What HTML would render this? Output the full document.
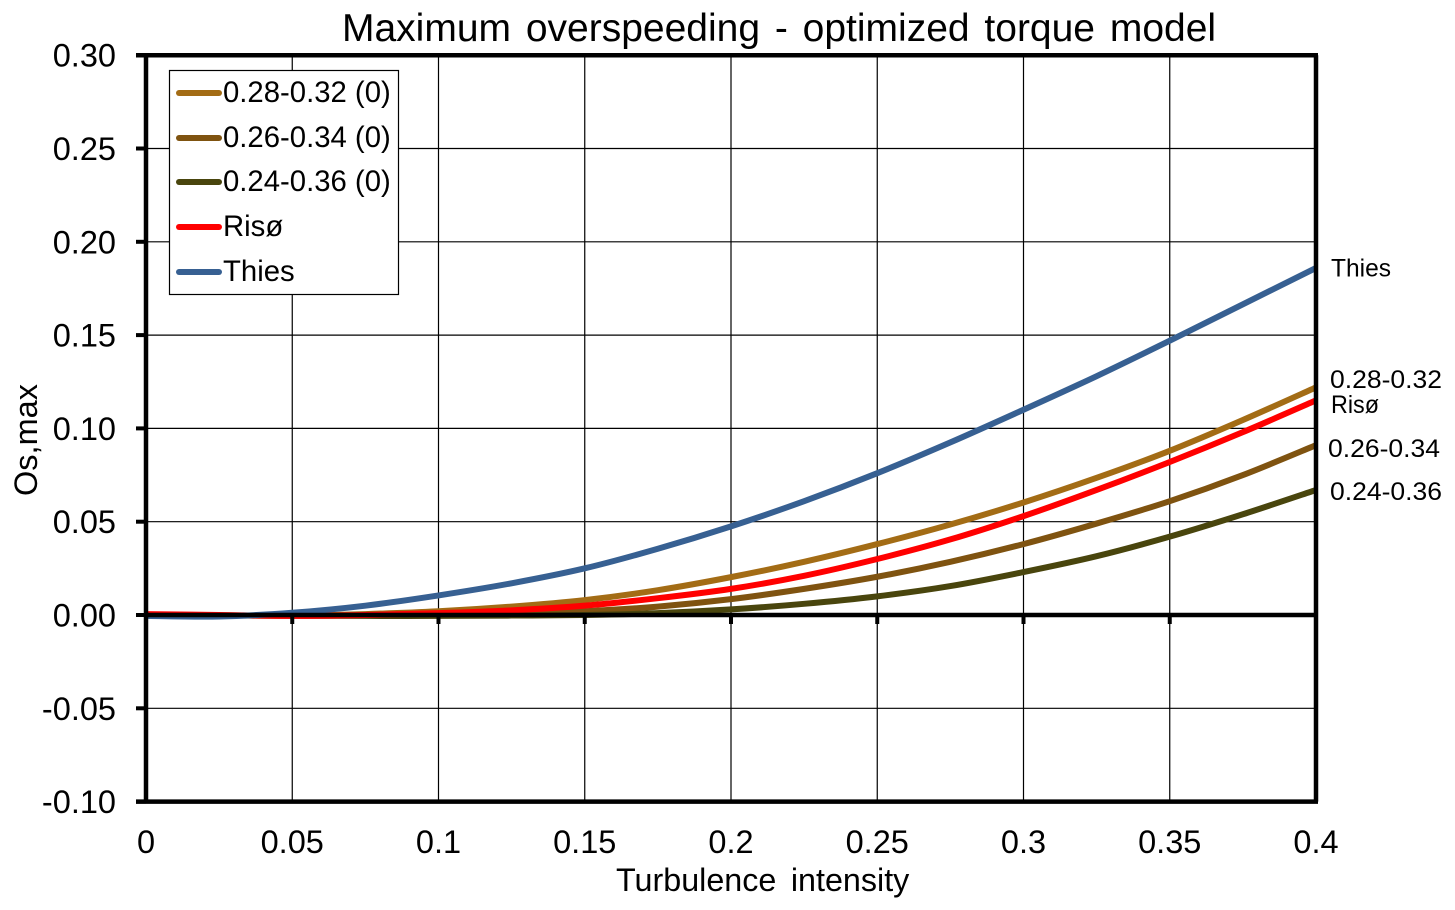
<!DOCTYPE html>
<html>
<head>
<meta charset="utf-8">
<style>
html,body{margin:0;padding:0;background:#fff;}
svg{display:block;}
text{font-family:"Liberation Sans",sans-serif;fill:#000;}
</style>
</head>
<body>
<svg id="chart" width="1455" height="910" viewBox="0 0 1455 910" xmlns="http://www.w3.org/2000/svg">
<rect x="0" y="0" width="1455" height="910" fill="#fff"/>
<g id="grid"></g>
<g id="series"></g>
<g id="axes"></g>
<g id="ticks"></g>
<text x="342" y="41" font-size="39" word-spacing="4">Maximum overspeeding - optimized torque model</text>
<text x="616" y="891" font-size="32.3" word-spacing="5.5">Turbulence intensity</text>
<text transform="translate(37,440) rotate(-90)" font-size="32.5" text-anchor="middle">Os,max</text>
<g id="legend"></g>
<g id="end-labels"></g>
</svg>
<script>
var xTicks = [0, 0.05, 0.1, 0.15, 0.2, 0.25, 0.3, 0.35, 0.4];
var xTickLabels = ["0", "0.05", "0.1", "0.15", "0.2", "0.25", "0.3", "0.35", "0.4"];
var yTicks = [-0.1, -0.05, 0, 0.05, 0.1, 0.15, 0.2, 0.25, 0.3];
var yTickLabels = ["-0.10", "-0.05", "0.00", "0.05", "0.10", "0.15", "0.20", "0.25", "0.30"];
var turbulence = [0, 0.025, 0.05, 0.075, 0.1, 0.125, 0.15, 0.175, 0.2, 0.225, 0.25, 0.275, 0.3, 0.325, 0.35, 0.375, 0.4];
var band2832 = [0, -0.0002, -0.0003, 0.0005, 0.002, 0.0045, 0.008, 0.0133, 0.0203, 0.0285, 0.038, 0.0485, 0.0603, 0.0735, 0.088, 0.1045, 0.122];
var band2634 = [0, -0.0002, -0.0004, -0.0003, 0, 0.0005, 0.002, 0.0045, 0.0085, 0.014, 0.0205, 0.0285, 0.038, 0.049, 0.061, 0.075, 0.091];
var band2436 = [0, -0.0002, -0.0004, -0.0005, -0.0005, -0.0003, 0, 0.001, 0.003, 0.006, 0.01, 0.0155, 0.023, 0.0315, 0.042, 0.054, 0.067];
var riso = [0.0005, 0, -0.0005, 0, 0.001, 0.0025, 0.005, 0.009, 0.014, 0.021, 0.03, 0.0405, 0.053, 0.067, 0.082, 0.098, 0.115];
var thies = [-0.0005, -0.0008, 0.0012, 0.005, 0.0105, 0.017, 0.025, 0.0355, 0.0475, 0.061, 0.076, 0.0925, 0.11, 0.128, 0.147, 0.1665, 0.186];
var legendLabels = ["0.28-0.32 (0)", "0.26-0.34 (0)", "0.24-0.36 (0)", "Risø", "Thies"];
var endLabels = ["0.28-0.32", "0.26-0.34", "0.24-0.36", "Risø", "Thies"];

var NS = 'http://www.w3.org/2000/svg';
function sx(v){ return 146 + (v - 0) / 0.4 * 1170; }
function sy(v){ return 615 - v / 0.05 * 93.3; }
function make(parent, tag, attrs, txt){
  var el = document.createElementNS(NS, tag);
  for (var k in attrs) el.setAttribute(k, attrs[k]);
  if (txt !== undefined) el.textContent = txt;
  parent.appendChild(el);
  return el;
}
var grid = document.getElementById('grid');
var axes = document.getElementById('axes');
var ticks = document.getElementById('ticks');
var seriesG = document.getElementById('series');
var legend = document.getElementById('legend');
var endG = document.getElementById('end-labels');

xTicks.forEach(function(v, i){
  var px = sx(v);
  if (i > 0 && i < xTicks.length - 1) {
    var gl = make(grid, 'line', {x1:px, x2:px, y1:sy(0.3), y2:sy(-0.1), stroke:'#000', 'stroke-width':1.2});
    
    
    var tk = make(axes, 'line', {x1:px, x2:px, y1:sy(0), y2:sy(0) + 9, stroke:'#000', 'stroke-width':4});
    
    
  }
  var t = make(ticks, 'text', {x:px, y:853, 'font-size':32.5, 'text-anchor':'middle'}, xTickLabels[i]);
  
  
});
yTicks.forEach(function(v, i){
  var py = sy(v);
  if (i > 0 && i < yTicks.length - 1) {
    var gl = make(grid, 'line', {x1:146, x2:1316, y1:py, y2:py, stroke:'#000', 'stroke-width':1.2});
    
    
  }
  var tk = make(axes, 'line', {x1:136, x2:146, y1:py, y2:py, stroke:'#000', 'stroke-width':4});
  
  
  var t = make(ticks, 'text', {x:116, y:py + 11.5, 'font-size':32.5, 'text-anchor':'end'}, yTickLabels[i]);
  
  
});

var frame = [
  ['axis-top', 136, sy(0.3), 1318, sy(0.3)],
  ['axis-bottom', 136, sy(-0.1), 1318, sy(-0.1)],
  ['axis-left', sx(0), sy(0.3), sx(0), sy(-0.1)],
  ['axis-right', sx(0.4), sy(0.3), sx(0.4), sy(-0.1)],
  ['axis-zero-line', sx(0), sy(0), sx(0.4), sy(0)]
];
frame.forEach(function(f){
  var l = make(axes, 'line', {x1:f[1], y1:f[2], x2:f[3], y2:f[4], stroke:'#000', 'stroke-width':4.5});
  
  
});

function smoothPath(xs, ys){
  var p = xs.map(function(x, i){ return [sx(x), sy(ys[i])]; });
  var d = 'M' + p[0][0] + ' ' + p[0][1];
  for (var i = 0; i < p.length - 1; i++) {
    var a = p[Math.max(0, i - 1)], b = p[i], c = p[i + 1], e = p[Math.min(p.length - 1, i + 2)];
    d += ' C' + (b[0] + (c[0] - a[0]) / 6) + ' ' + (b[1] + (c[1] - a[1]) / 6) + ' ' +
         (c[0] - (e[0] - b[0]) / 6) + ' ' + (c[1] - (e[1] - b[1]) / 6) + ' ' + c[0] + ' ' + c[1];
  }
  return d;
}
var colors = ['#A36C15', '#7F5310', '#49450D', '#FF0000', '#376092'];
var seriesValues = [band2832, band2634, band2436, riso, thies];
seriesValues.forEach(function(vals, i){
  var p = make(seriesG, 'path', {d:smoothPath(turbulence, vals), fill:'none', stroke:colors[i], 'stroke-width':6});
  
  
});

var box = make(legend, 'rect', {x:169.5, y:70.5, width:229, height:224, fill:'#fff', stroke:'#000', 'stroke-width':1.2});


var legendY = [93, 138, 182, 227, 272];
legendLabels.forEach(function(label, i){
  var ln = make(legend, 'line', {x1:179, x2:219, y1:legendY[i], y2:legendY[i], stroke:colors[i], 'stroke-width':6, 'stroke-linecap':'round'});
  
  
  var t = make(legend, 'text', {x:223, y:legendY[i] + 9, 'font-size':29.3}, label);
  
  
});

var endX = [1330, 1328, 1330, 1331, 1331];
var endY = [388, 457, 500, 413, 276.5];
var endW = [112, 112, 112, 48, 60];
endLabels.forEach(function(label, i){
  var t = make(endG, 'text', {x:endX[i], y:endY[i], 'font-size':25, textLength:endW[i], lengthAdjust:'spacingAndGlyphs'}, label);
  
  
});
</script>
</body>
</html>
